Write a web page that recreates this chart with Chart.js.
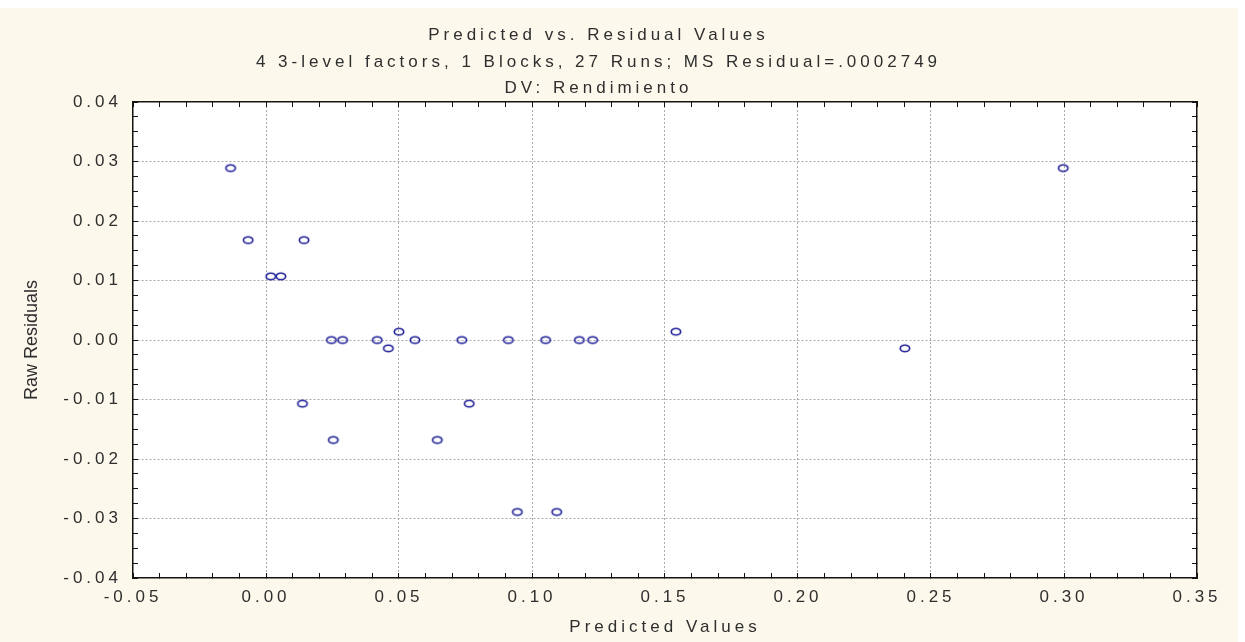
<!DOCTYPE html>
<html>
<head>
<meta charset="utf-8">
<script src="https://cdn.jsdelivr.net/npm/chart.js@4.4.1/dist/chart.umd.min.js"></script>
<style>
  html, body { margin: 0; padding: 0; background: #ffffff; }
  #wrap { width: 1245px; height: 642px; position: relative; }
</style>
</head>
<body>
<div id="wrap"><canvas id="c"></canvas></div>
<script>
// ---- chart text ----
const titleLines = [
  'Predicted vs. Residual Values',
  '4 3-level factors, 1 Blocks, 27 Runs; MS Residual=.0002749',
  'DV: Rendimiento'
];
const xTitle = 'Predicted Values';
const yTitle = 'Raw Residuals';

// ---- data ----
const predicted = [
  -0.0133, -0.0067, 0.0018, 0.0056, 0.0143, 0.0137, 0.0246, 0.0288, 0.0253,
   0.0418,  0.0460, 0.0500, 0.0560, 0.0644, 0.0736, 0.0764, 0.0911, 0.0945,
   0.1051,  0.1093, 0.1178, 0.1228, 0.1541, 0.2402, 0.2997
];
const residuals = [
   0.0289,  0.0168, 0.0107, 0.0107, 0.0168, -0.0107, 0.0000, 0.0000, -0.0168,
   0.0000, -0.0014, 0.0014, 0.0000, -0.0168, 0.0000, -0.0107, 0.0000, -0.0289,
   0.0000, -0.0289, 0.0000, 0.0000, 0.0014, -0.0014, 0.0289
];

// ---- axis ranges / tick steps ----
const xRange = [-0.05, 0.35];
const yRange = [-0.04, 0.04];
const xMajorStep = 0.05, xMinorStep = 0.01;
const yMajorStep = 0.01, yMinorStep = 0.0025;

// ---- styling ----
const FONT = "'Liberation Sans', Arial, sans-serif";
const CREAM = '#fcf8ec';
const TEXT = '#2e2e2e';
const GRID = '#a9a9a9';
const AXIS = '#141414';
const MARK = '#1e1e96';

Chart.defaults.font.family = FONT;

function isMajor(v, step) {
  const r = v / step;
  return Math.abs(r - Math.round(r)) < 1e-6;
}
function fmt(v) {
  if (Math.abs(v) < 1e-9) v = 0;
  return v.toFixed(2);
}
function gridColorFor(step, range) {
  return (c) => {
    if (!c.tick) return 'transparent';
    const v = c.tick.value;
    if (!isMajor(v, step)) return 'transparent';
    if (Math.abs(v - range[0]) < 1e-9 || Math.abs(v - range[1]) < 1e-9) return 'transparent';
    return GRID;
  };
}

// ellipse marker (open)
const marker = document.createElement('canvas');
marker.width = 14; marker.height = 11;
(function () {
  const m = marker.getContext('2d');
  m.strokeStyle = MARK;
  m.lineWidth = 1.6;
  m.beginPath();
  m.ellipse(7, 5.5, 4.7, 3.3, 0, 0, Math.PI * 2);
  m.stroke();
})();

const bgPlugin = {
  id: 'bg',
  beforeLayout(chart) {
    const s = chart.scales.y;
    if (s && !s._lsPatched) {
      s._lsPatched = true;
      s.draw = function (area) {
        const ctx = this.ctx;
        this.drawBackground();
        this.drawGrid(area);
        const prev = ctx.letterSpacing;
        ctx.letterSpacing = '0px';
        this.drawTitle();
        ctx.letterSpacing = prev;
        this.drawBorder();
        this.drawLabels(area);
      };
    }
  },
  beforeDraw(chart) {
    const { ctx, chartArea: a, width, height } = chart;
    ctx.save();
    ctx.fillStyle = '#ffffff';
    ctx.fillRect(0, 0, width, height);
    ctx.fillStyle = CREAM;
    ctx.fillRect(0, 8, width - 7, height - 8);
    ctx.fillStyle = '#ffffff';
    ctx.fillRect(a.left, a.top, a.right - a.left, a.bottom - a.top);
    ctx.restore();
    ctx.letterSpacing = '4px';
  },
  afterDraw(chart) {
    chart.ctx.letterSpacing = '0px';
  }
};

const points = predicted.map((x, i) => ({ x: x, y: residuals[i] }));

new Chart(document.getElementById('c'), {
  type: 'scatter',
  data: {
    datasets: [{
      data: points,
      xAxisID: 'x',
      yAxisID: 'y',
      pointStyle: marker,
      pointRadius: 5,
      pointHoverRadius: 5
    }]
  },
  options: {
    responsive: true,
    maintainAspectRatio: false,
    animation: false,
    events: [],
    layout: { padding: { top: 0, left: 0, right: 48, bottom: 0 } },
    plugins: {
      legend: { display: false },
      tooltip: { enabled: false },
      title: {
        display: true,
        text: titleLines,
        color: TEXT,
        font: { size: 17, weight: 'normal', lineHeight: 1.56 },
        padding: { top: 22.5, bottom: 0 }
      }
    },
    scales: {
      x: {
        type: 'linear',
        position: 'bottom',
        min: xRange[0], max: xRange[1],
        ticks: {
          stepSize: xMinorStep,
          autoSkip: false,
          maxRotation: 0,
          color: TEXT,
          font: { size: 17 },
          padding: 14,
          callback: (v) => isMajor(v, xMajorStep) ? fmt(v) : ''
        },
        grid: {
          color: gridColorFor(xMajorStep, xRange),
          lineWidth: 1,
          drawTicks: true,
          tickLength: -5,
          tickColor: AXIS,
          tickWidth: 1
        },
        border: { display: true, color: AXIS, width: 1.5, dash: [2, 2] },
        title: {
          display: true, text: xTitle, color: TEXT,
          font: { size: 17 }, padding: { top: 0, bottom: 4 }
        },
        afterFit(s) { s.height = 64; }
      },
      y: {
        type: 'linear',
        position: 'left',
        min: yRange[0], max: yRange[1],
        ticks: {
          stepSize: yMinorStep,
          autoSkip: false,
          color: TEXT,
          font: { size: 17 },
          padding: 16,
          callback: (v) => isMajor(v, yMajorStep) ? fmt(v) : ''
        },
        grid: {
          color: gridColorFor(yMajorStep, yRange),
          lineWidth: 1,
          drawTicks: true,
          tickLength: -5,
          tickColor: AXIS,
          tickWidth: 1
        },
        border: { display: true, color: AXIS, width: 1.5, dash: [2, 2] },
        title: {
          display: true, text: yTitle, color: TEXT,
          font: { size: 18 }, padding: { top: 21, bottom: 0 }
        },
        afterFit(s) { s.width = 133; }
      },
      x2: {
        type: 'linear',
        position: 'top',
        min: xRange[0], max: xRange[1],
        ticks: { display: false, stepSize: xMinorStep, autoSkip: false },
        grid: { drawOnChartArea: false, tickLength: -5, tickColor: AXIS, tickWidth: 1 },
        border: { display: true, color: AXIS, width: 1.5 },
        afterFit(s) { s.height = 0; }
      },
      y2: {
        type: 'linear',
        position: 'right',
        min: yRange[0], max: yRange[1],
        ticks: { display: false, stepSize: yMinorStep, autoSkip: false },
        grid: { drawOnChartArea: false, tickLength: -5, tickColor: AXIS, tickWidth: 1 },
        border: { display: true, color: AXIS, width: 1.5 },
        afterFit(s) { s.width = 0; }
      }
    }
  },
  plugins: [bgPlugin]
});
</script>
</body>
</html>
